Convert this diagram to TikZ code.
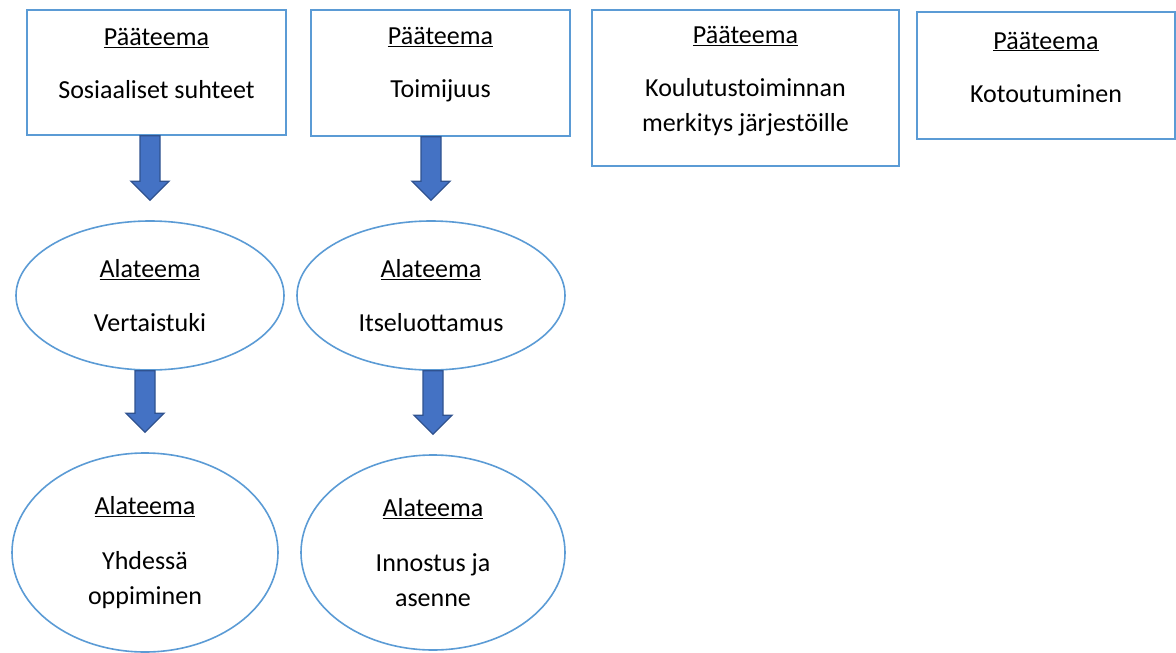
\documentclass[tikz,border=0pt]{standalone}
\usepackage{fontspec}
\setmainfont{Carlito}
\usetikzlibrary{calc,shapes.geometric}
\definecolor{reunasin}{HTML}{5B9BD5}
\definecolor{nuolisin}{HTML}{4472C4}
\definecolor{nuolitumma}{HTML}{2F528F}
\tikzset{
  paateema/.style={draw=reunasin, line width=1.6pt, rectangle},
  alateema/.style={draw=reunasin, line width=1.6pt, ellipse, align=center,
    font=\fontsize{26}{35}\selectfont},
  teksti/.style={align=center, font=\fontsize{26}{35}\selectfont, inner sep=0pt},
  lohkonuoli/.style={fill=nuolisin, draw=nuolitumma, line width=1.3pt, line join=miter}
}
% block arrow from #1 down to #2
\newcommand{\lohko}[2]{%
  \draw[lohkonuoli] let \p1=(#1.south), \p2=(#2.north) in
    (\x2-10pt,\y1) -- (\x2+10pt,\y1) -- (\x2+10pt,\y2+39pt) -- (\x2+19pt,\y2+39pt)
    -- (\x2,\y2+20pt) -- (\x2-19pt,\y2+39pt) -- (\x2-10pt,\y2+39pt) -- cycle;}
\begin{document}
\begin{tikzpicture}[x=1pt,y=-1pt]
\useasboundingbox (0,0) rectangle (1176,653);
% paateemat
\node[paateema, minimum width=259, minimum height=125] (b1) at (156.5,72.5) {};
\node[paateema, minimum width=259, minimum height=126] (b2) at (440.5,73) {};
\node[paateema, minimum width=307, minimum height=156] (b3) at (745.5,88) {};
\node[paateema, minimum width=258, minimum height=127] (b4) at (1046,75.5) {};
\node[teksti] (t1) at (156.5,63.5) {\underline{Pääteema}\\[18pt]Sosiaaliset suhteet};
\node[teksti] (t2) at (440.5,65) {\underline{Pääteema}\\[18pt]Toimijuus};
\node[teksti] (t3) at (745.5,81.5) {\underline{Pääteema}\\[18pt]Koulutustoiminnan\\merkitys järjestöille};
\node[teksti] (t4) at (1046,67) {\underline{Pääteema}\\[18pt]Kotoutuminen};
% alateemat
\node[alateema, minimum width=268, minimum height=149] (e1) at (150,295.5) {\underline{Alateema}\\[19pt]Vertaistuki};
\node[alateema, minimum width=268, minimum height=149] (e2) at (431,295.5) {\underline{Alateema}\\[19pt]Itseluottamus};
\node[alateema, minimum width=266, minimum height=199] (e3) at (145,552.5) {\underline{Alateema}\\[20pt]Yhdessä\\oppiminen};
\node[alateema, minimum width=264, minimum height=195] (e4) at (433,552.5) {\underline{Alateema}\\[20pt]Innostus ja\\asenne};
% nuolet
\lohko{b1}{e1}
\lohko{b2}{e2}
\lohko{e1}{e3}
\lohko{e2}{e4}
\end{tikzpicture}
\end{document}
